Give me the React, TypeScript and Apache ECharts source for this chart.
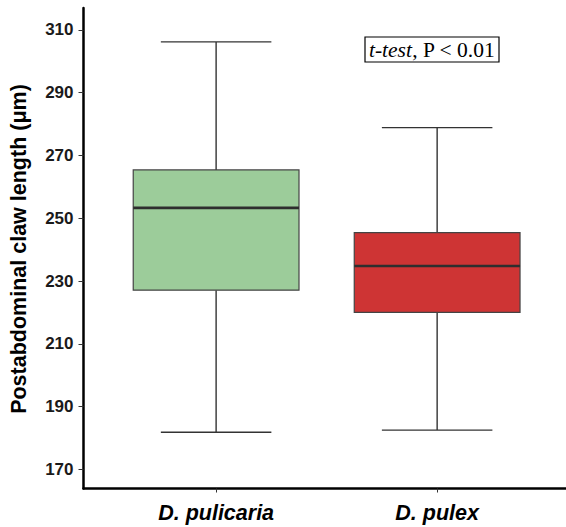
import React, { useEffect, useRef } from "react";
import * as echarts from "echarts";

const categories = ["D. pulicaria", "D. pulex"];
const lowerWhisker = [181.8, 182.5];
const q1 = [227.1, 220.0];
const median = [253.3, 234.8];
const q3 = [265.4, 245.4];
const upperWhisker = [306.2, 278.9];
const boxColors = ["#9ccc9a", "#ce3434"];
const yTicks = [170, 190, 210, 230, 250, 270, 290, 310];
const xPositions = [1, 2];
const yAxisTitle = "Postabdominal claw length (μm)";

export default function App() {
  const ref = useRef<HTMLDivElement>(null);
  useEffect(() => {
    if (!ref.current) return;
    const chart = echarts.init(ref.current, null, { renderer: "svg" });
    const data = categories.map((_, i) => [
      xPositions[i],
      lowerWhisker[i],
      q1[i],
      median[i],
      q3[i],
      upperWhisker[i],
    ]);
    const lineStroke = "#333333";
    chart.setOption({
      animation: false,
      backgroundColor: "#ffffff",
      grid: { left: 83.5, right: 0, top: 8, bottom: 38.5 },
      xAxis: {
        type: "value",
        min: 0.4,
        max: 2.583,
        splitLine: { show: false },
        axisLine: { show: true, onZero: false, lineStyle: { color: "#000", width: 2.5 } },
        axisTick: {
          show: true,
          customValues: xPositions,
          length: 4,
          lineStyle: { color: "#333", width: 1 },
        },
        axisLabel: {
          show: true,
          customValues: xPositions,
          margin: 13,
          fontFamily: "Liberation Sans, Arial, sans-serif",
          fontSize: 21.5,
          fontWeight: "bold",
          fontStyle: "italic",
          color: "#000",
          formatter: (v: number) => {
            const i = xPositions.indexOf(Math.round(v));
            return i >= 0 ? categories[i] : "";
          },
        },
      },
      yAxis: {
        type: "value",
        min: 163.9,
        max: 317,
        splitLine: { show: false },
        axisLine: { show: true, onZero: false, lineStyle: { color: "#000", width: 2.5 } },
        axisTick: {
          show: true,
          customValues: yTicks,
          length: 5,
          lineStyle: { color: "#333", width: 1 },
        },
        axisLabel: {
          show: true,
          customValues: yTicks,
          margin: 10,
          fontFamily: "Liberation Sans, Arial, sans-serif",
          fontSize: 17,
          fontWeight: "bold",
          color: "#1a1a1a",
        },
      },
      series: [
        {
          type: "custom",
          encode: { x: 0, y: [1, 2, 3, 4, 5] },
          data,
          renderItem: (params: any, api: any) => {
            const x = api.value(0);
            const lo = api.coord([x, api.value(1)]);
            const pq1 = api.coord([x, api.value(2)]);
            const med = api.coord([x, api.value(3)]);
            const pq3 = api.coord([x, api.value(4)]);
            const hi = api.coord([x, api.value(5)]);
            const bw = api.size([0.75, 0])[0];
            const cw = api.size([0.5, 0])[0];
            const cx = lo[0];
            const ls = { stroke: lineStroke, lineWidth: 1.4 };
            return {
              type: "group",
              children: [
                { type: "line", shape: { x1: cx, y1: pq3[1], x2: cx, y2: hi[1] }, style: ls },
                { type: "line", shape: { x1: cx, y1: pq1[1], x2: cx, y2: lo[1] }, style: ls },
                { type: "line", shape: { x1: cx - cw / 2, y1: hi[1], x2: cx + cw / 2, y2: hi[1] }, style: ls },
                { type: "line", shape: { x1: cx - cw / 2, y1: lo[1], x2: cx + cw / 2, y2: lo[1] }, style: ls },
                {
                  type: "rect",
                  shape: { x: cx - bw / 2, y: pq3[1], width: bw, height: pq1[1] - pq3[1] },
                  style: { fill: boxColors[params.dataIndex], stroke: "#444", lineWidth: 1.2 },
                },
                {
                  type: "line",
                  shape: { x1: cx - bw / 2, y1: med[1], x2: cx + bw / 2, y2: med[1] },
                  style: { stroke: "#2e2e2e", lineWidth: 2.6 },
                },
              ],
            };
          },
        },
      ],
      graphic: [
        {
          type: "text",
          x: 19,
          y: 249,
          rotation: Math.PI / 2,
          style: {
            text: yAxisTitle,
            fontFamily: "Liberation Sans, Arial, sans-serif",
            fontSize: 21.5,
            fontWeight: "bold",
            fill: "#000",
            textAlign: "center",
            textVerticalAlign: "middle",
          },
        },
        {
          type: "rect",
          shape: { x: 365, y: 37, width: 134, height: 25 },
          style: { fill: "#fff", stroke: "#000", lineWidth: 1.2 },
        },
        {
          type: "text",
          x: 432,
          y: 50,
          style: {
            text: "{i|t-test}, P < 0.01",
            fontFamily: "Liberation Serif, Times New Roman, serif",
            fontSize: 21.5,
            fill: "#000",
            textAlign: "center",
            textVerticalAlign: "middle",
            rich: {
              i: {
                fontFamily: "Liberation Serif, Times New Roman, serif",
                fontSize: 21.5,
                fontStyle: "italic",
                fill: "#000",
              },
            },
          },
        },
      ],
    });
    return () => chart.dispose();
  }, []);
  return (
    <div
      ref={ref}
      style={{ position: "fixed", left: 0, top: 0, width: 566, height: 527 }}
    />
  );
}
